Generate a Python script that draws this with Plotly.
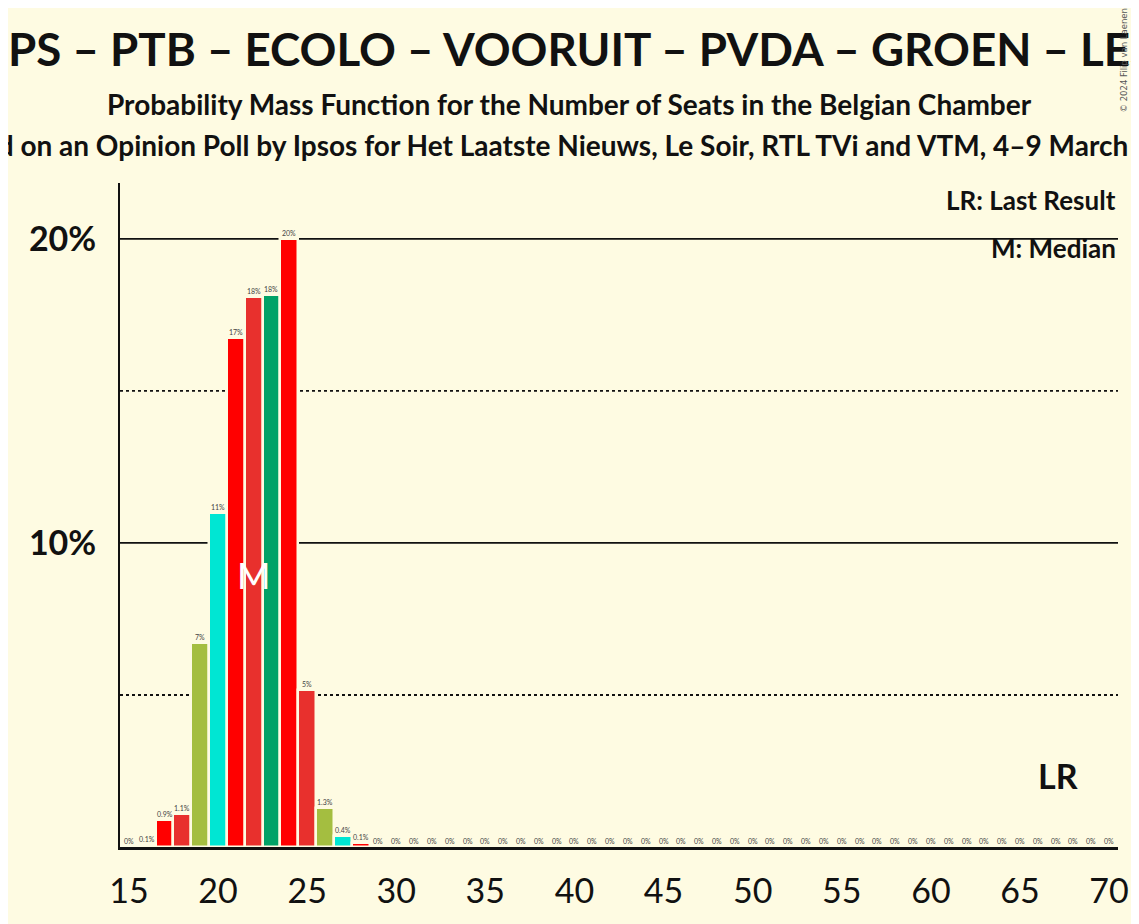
import plotly.graph_objects as go

# seats and probabilities (%)
seats = list(range(15, 71))
probs = [0, 0.06, 0.9, 1.1, 6.7, 10.97, 16.75, 18.1, 18.16, 20.0, 5.15, 1.28, 0.36, 0.12] + [0] * 42

# colour cycle of the parties, starting at 15 seats
party_colors = ["#E8302D", "#00A266", "#FF0000", "#E8302D", "#A4BE40", "#00E6D3", "#FF0000"]

median_seat = 22
last_result_seat = 67

title = "PS – PTB – ECOLO – VOORUIT – PVDA – GROEN – LES ENGAGÉS"
subtitle1 = "Probability Mass Function for the Number of Seats in the Belgian Chamber"
subtitle2 = "Based on an Opinion Poll by Ipsos for Het Laatste Nieuws, Le Soir, RTL TVi and VTM, 4–9 March 2024"

bg = "#FEFBE2"
font = "Lato, 'Open Sans', sans-serif"


def fmt(v):
    if v < 0.05:
        return "0%"
    if v < 2:
        return f"{v:.1f}%"
    return f"{round(v):.0f}%"


colors = [party_colors[(s - 15) % 7] for s in seats]

fig = go.Figure()
fig.add_trace(
    go.Bar(
        x=seats,
        y=probs,
        width=1,
        marker=dict(color=colors, line=dict(color=bg, width=2.5)),
        hoverinfo="x+y",
        showlegend=False,
    )
)

# grid lines
for v, dash in [(5, "dot"), (10, "solid"), (15, "dot"), (20, "solid")]:
    fig.add_shape(
        type="line", xref="paper", x0=0, x1=1, yref="y", y0=v, y1=v,
        line=dict(color="#111111", width=1.8, dash=dash), layer="below",
    )

# value labels
for s, p in zip(seats, probs):
    fig.add_annotation(
        x=s, y=p, text=fmt(p), showarrow=False, yanchor="bottom", yshift=1,
        font=dict(family=font, size=7, color="#444444"), bgcolor=bg, borderpad=0,
    )

fig.add_annotation(
    x=median_seat, y=8.95, text="M", showarrow=False,
    font=dict(family=font, size=36, color="white"),
)
fig.add_annotation(
    x=last_result_seat, y=2.35, text="<b>LR</b>", showarrow=False, xshift=2,
    font=dict(family=font, size=34, color="#111111"),
)

fig.add_annotation(
    xref="paper", yref="paper", x=1, y=0.974, xanchor="right", yanchor="middle",
    text="<b>LR: Last Result</b>", showarrow=False,
    font=dict(family=font, size=26, color="#111111"),
)
fig.add_annotation(
    xref="paper", yref="paper", x=1, y=0.902, xanchor="right", yanchor="middle",
    text="<b>M: Median</b>", showarrow=False,
    font=dict(family=font, size=26, color="#111111"),
)

# titles
fig.add_annotation(
    xref="paper", yref="paper", x=0.4504, y=1.119, xanchor="center", yanchor="middle",
    text="<b>" + subtitle1 + "</b>", showarrow=False,
    font=dict(family=font, size=28, color="#111111"),
)
fig.add_annotation(
    xref="paper", yref="paper", x=0.4504, y=1.057, xanchor="center", yanchor="middle",
    text="<b>" + subtitle2 + "</b>", showarrow=False,
    font=dict(family=font, size=28, color="#111111"),
)
fig.add_annotation(
    xref="paper", yref="paper", x=1.006, y=1.268, xanchor="center", yanchor="top",
    text="© 2024 Filip van Laenen", showarrow=False, textangle=-90,
    font=dict(family="DejaVu Sans, sans-serif", size=8.5, color="#555555"),
)

fig.update_layout(
    width=1139,
    height=924,
    paper_bgcolor=bg,
    plot_bgcolor=bg,
    margin=dict(l=112, r=29, t=175, b=85),
    bargap=0,
    title=dict(
        text="<b>" + title + "</b>",
        xref="container", yref="container",
        x=0, xanchor="left", y=0.9545, yanchor="middle",
        font=dict(family=font, size=45.7, color="#111111"),
    ),
    xaxis=dict(
        range=[14.5, 70.5],
        tickvals=list(range(15, 71, 5)),
        showgrid=False,
        zeroline=False,
        showline=True,
        linecolor="#111111",
        linewidth=3,
        ticks="",
        ticklabelstandoff=12,
        tickfont=dict(family=font, size=34, color="#111111"),
    ),
    yaxis=dict(
        range=[0, 21.84],
        tickvals=[10, 20],
        ticktext=["<b>10%</b>", "<b>20%</b>"],
        showgrid=False,
        zeroline=False,
        showline=True,
        linecolor="#111111",
        linewidth=2,
        ticks="",
        ticklabelstandoff=15,
        tickfont=dict(family=font, size=34, color="#111111"),
    ),
)

fig.write_html("out.html")
